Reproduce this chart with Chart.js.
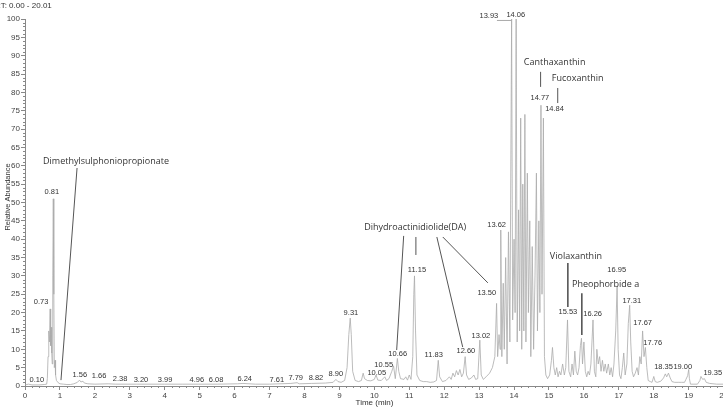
<!DOCTYPE html>
<html><head><meta charset="utf-8">
<script src="https://cdn.jsdelivr.net/npm/chart.js@4.4.1/dist/chart.umd.min.js"></script>
<style>
html,body{margin:0;padding:0;overflow:hidden;background:#fff;width:723px;height:412px}
#wrap{position:absolute;left:0;top:0;width:730px;height:412px}
</style>
</head><body><div id="wrap"><canvas id="c" width="730" height="412"></canvas></div>
<script>
// ---- data ----
const times = [0.00,0.10,0.20,0.40,0.55,0.62,0.64,0.66,0.68,0.70,0.72,0.73,0.74,0.75,0.765,0.78,0.795,0.81,0.825,0.84,0.86,0.875,0.90,0.95,1.00,1.10,1.20,1.30,1.40,1.50,1.56,1.60,1.66,1.70,1.80,2.00,2.38,2.60,3.20,3.99,4.50,4.96,5.50,6.08,6.24,6.60,7.00,7.61,7.79,7.85,8.20,8.60,8.82,8.90,8.96,9.05,9.15,9.22,9.27,9.31,9.34,9.38,9.45,9.55,9.63,9.68,9.72,9.80,9.90,10.00,10.05,10.10,10.20,10.30,10.35,10.42,10.50,10.55,10.60,10.66,10.70,10.75,10.85,10.90,10.95,11.00,11.05,11.10,11.13,11.15,11.18,11.22,11.30,11.40,11.50,11.60,11.70,11.78,11.83,11.87,11.95,12.05,12.15,12.20,12.25,12.30,12.35,12.40,12.45,12.50,12.55,12.60,12.64,12.70,12.78,12.85,12.90,12.96,13.02,13.06,13.12,13.20,13.30,13.38,13.45,13.50,13.53,13.57,13.60,13.62,13.65,13.69,13.72,13.76,13.80,13.84,13.88,13.93,13.96,14.00,14.03,14.06,14.09,14.13,14.16,14.19,14.22,14.25,14.28,14.31,14.34,14.38,14.41,14.45,14.48,14.52,14.56,14.60,14.64,14.67,14.71,14.74,14.77,14.80,14.84,14.87,14.91,14.96,15.02,15.07,15.10,15.14,15.18,15.22,15.26,15.30,15.34,15.39,15.44,15.48,15.53,15.57,15.62,15.66,15.70,15.74,15.78,15.82,15.86,15.90,15.93,15.96,16.00,16.04,16.08,16.12,16.16,16.20,16.26,16.30,16.34,16.37,16.41,16.45,16.49,16.53,16.57,16.61,16.65,16.70,16.74,16.78,16.82,16.86,16.91,16.95,16.98,17.02,17.06,17.10,17.14,17.18,17.23,17.27,17.31,17.34,17.38,17.42,17.47,17.52,17.56,17.60,17.64,17.68,17.72,17.76,17.80,17.84,17.90,17.95,18.00,18.04,18.10,18.20,18.28,18.33,18.37,18.42,18.47,18.52,18.60,18.70,18.80,18.88,18.92,18.97,19.00,19.02,19.05,19.15,19.25,19.32,19.35,19.40,19.45,19.50,19.60,19.80,20.01];
const abundance = [0.3,0.5,0.3,0.3,0.4,0.5,2,8,15,12,21,20,11,16,9,6,30,51,25,5,7,3,1.5,0.9,0.6,0.5,0.4,0.4,0.6,1.0,1.6,1.1,1.3,0.8,0.6,0.5,0.6,0.5,0.5,0.5,0.5,0.5,0.5,0.6,0.7,0.5,0.5,0.7,0.9,0.6,0.7,0.8,1.0,1.8,1.2,1.0,1.5,5,14,18.5,14,4,1.5,1.2,1.5,3.5,2,1.5,1.4,1.8,3,1.6,1.5,2.5,1.5,2,4,5.5,2,7.5,4,2,1.8,2.5,1.6,3,1.8,8,25,30,15,3,1.5,1.2,1.2,1.0,1.1,1.5,7,2.5,1.2,1.5,2.5,1.8,3.5,2.5,4.2,3,4.5,2.5,3.5,8,3,1.8,2.2,3,1.8,2,12.5,3,1.8,2.5,3.5,5,8,22.5,8,14,10,42.5,8,28,10,35,6,42,12,100,18,40,20,100,12,48,15,73,10,55,15,74,12,58,20,45,8,38,10,30,58,15,45,20,76.5,25,73,8,3,2,3,7,10.5,5,3,5,2.5,4,3,6,3,5,18,4,2.5,6,3,9.5,4,3,5,11,13,6,12,4,2.5,4,3,6,18,4,2.5,10,6,8,4,7,4,6,3.5,6,3,5,2.5,6,15,27,10,3,2,5,9,3,6,17,22,12,4,2.5,3.5,5,3,8,6,15,8,10.5,5,1.5,1.2,1.0,2.6,1.2,1.0,1.3,2.2,3.3,2.5,3.5,2.2,1.2,1.0,1.0,1.0,1.0,1.8,2.8,4.5,2,0.5,0.5,0.5,1.5,2.6,1.8,2.0,1.0,0.7,0.5,0.5];

// tick values
const xTickValues = [0,1,2,3,4,5,6,7,8,9,10,11,12,13,14,15,16,17,18,19,20];
const yTickValues = [0,5,10,15,20,25,30,35,40,45,50,55,60,65,70,75,80,85,90,95,100];

// peak retention-time labels: [text, time, abundance] (text anchor in data units)
const peakLabels = [
 ['0.10',0.34,1.6],['0.73',0.46,22.9],['0.81',0.77,52.9],['1.56',1.57,3.0],['1.66',2.12,2.7],
 ['2.38',2.72,1.9],['3.20',3.32,1.6],['3.99',4.01,1.6],['4.96',4.92,1.6],['6.08',5.47,1.6],
 ['6.24',6.29,1.9],['7.61',7.21,1.6],['7.79',7.75,2.2],['8.82',8.33,2.2],['8.90',8.90,3.3],
 ['9.31',9.33,19.9],['10.05',10.07,3.5],['10.55',10.27,5.7],['10.66',10.67,8.7],['11.15',11.22,31.6],
 ['11.83',11.70,8.4],['12.60',12.62,9.5],['13.02',13.05,13.6],['13.50',13.22,25.3],['13.62',13.50,43.9],
 ['13.93',13.28,100.8],['14.06',14.05,101.1],['14.77',14.74,78.5],['14.84',15.16,75.5],['15.53',15.54,20.2],
 ['16.26',16.25,19.6],['16.95',16.94,31.6],['17.31',17.37,23.2],['17.67',17.68,17.2],['17.76',17.97,11.7],
 ['18.35',18.28,5.2],['19.00',18.83,5.2],['19.35',19.69,3.5]
];

// compound names: [text, centre time, abundance]
const compoundNames = [
 ['Dimethylsulphoniopropionate',2.32,61.3],
 ['Dihydroactinidiolide(DA)',11.17,43.3],
 ['Canthaxanthin',15.16,88.3],
 ['Fucoxanthin',15.82,83.7],
 ['Violaxanthin',15.77,35.4],
 ['Pheophorbide a',16.62,27.8]
];

// leader lines: [t1, a1, t2, a2]
const leaderLines = [
 [1.49,59.4,1.03,1.6],
 [10.84,40.9,10.64,9.8],
 [11.19,40.6,11.19,35.7],
 [11.79,40.6,12.53,10.6],
 [11.96,40.6,13.25,28.1],
 [14.76,85.6,14.76,81.5],
 [15.25,81.2,15.25,77.1],
 [15.54,33.5,15.54,21.5],
 [15.94,25.3,15.94,13.9],
 [13.51,99.6,13.93,99.6]
];

const rangeText = 'RT: 0.00 - 20.01';
const xTitle = 'Time (min)';
const yTitle = 'Relative Abundance';

const points = times.map((t,i)=>({x:t,y:abundance[i]}));

const annot = {
  id:'annot',
  afterDraw(chart){
    const {ctx, scales:{x,y}} = chart;
    ctx.save();
    // minor ticks
    ctx.strokeStyle='#888'; ctx.lineWidth=1;
    ctx.beginPath();
    for(let k=0;k<=100;k++){ if(k%5===0) continue; const py=Math.round(y.getPixelForValue(k))+0.5; ctx.moveTo(x.left-2,py); ctx.lineTo(x.left,py); }
    for(let k=0;k<=100;k++){ if(k%5===0) continue; const px=Math.round(x.getPixelForValue(k*0.2))+0.5; ctx.moveTo(px,y.bottom); ctx.lineTo(px,y.bottom+2); }
    ctx.stroke();
    // leader lines
    ctx.strokeStyle='#555'; ctx.lineWidth=1;
    leaderLines.forEach(([t1,a1,t2,a2],i)=>{
      ctx.lineWidth = (i===7||i===8)?1.6:1;
      ctx.strokeStyle = (i===9)?'#aaa':'#555';
      ctx.beginPath();
      ctx.moveTo(x.getPixelForValue(t1),y.getPixelForValue(a1));
      ctx.lineTo(x.getPixelForValue(t2),y.getPixelForValue(a2));
      ctx.stroke();
    });
    // peak labels
    ctx.fillStyle='#333'; ctx.textAlign='center'; ctx.textBaseline='middle';
    ctx.font='7.5px "Liberation Sans", Arial, sans-serif';
    peakLabels.forEach(([s,t,a])=>ctx.fillText(s,x.getPixelForValue(t),y.getPixelForValue(a)));
    // compound names
    ctx.font='9px "Open Sans", sans-serif'; ctx.fillStyle='#333';
    compoundNames.forEach(([s,t,a])=>ctx.fillText(s,x.getPixelForValue(t),y.getPixelForValue(a)));
    // titles
    ctx.font='8px "Liberation Sans", Arial, sans-serif'; ctx.fillStyle='#333';
    ctx.fillText(xTitle,(x.left+x.right)/2,403);
    ctx.textAlign='left';
    ctx.fillText(rangeText,-5,6);
    ctx.translate(8,197); ctx.rotate(-Math.PI/2);
    ctx.textAlign='center'; ctx.font='7.5px "Liberation Sans", Arial, sans-serif';
    ctx.fillText(yTitle,0,0);
    ctx.restore();
  }
};

new Chart(document.getElementById('c'),{
  type:'line',
  data:{datasets:[{data:points,borderColor:'#ababab',borderWidth:0.8,pointRadius:0,tension:0,fill:false}]},
  options:{
    responsive:false, animation:false,
    layout:{padding:{top:19,right:6,left:0,bottom:0}},
    plugins:{legend:{display:false},tooltip:{enabled:false}},
    scales:{
      x:{type:'linear',min:0,max:20.01,
        afterFit(s){s.height=26;},
        afterBuildTicks(s){s.ticks=xTickValues.map(v=>({value:v}));},
        grid:{drawOnChartArea:false,drawTicks:true,tickLength:4,color:'#888'},
        border:{color:'#888'},
        ticks:{autoSkip:false,maxRotation:0,padding:1,color:'#444',font:{family:'Liberation Sans',size:8}}},
      y:{min:0,max:100,
        afterFit(s){s.width=25;},
        afterBuildTicks(s){s.ticks=yTickValues.map(v=>({value:v}));},
        grid:{drawOnChartArea:false,drawTicks:true,tickLength:4,color:'#888'},
        border:{color:'#888'},
        ticks:{autoSkip:false,padding:1,color:'#444',font:{family:'Liberation Sans',size:8}}}
    }
  },
  plugins:[annot]
});
</script></body></html>
